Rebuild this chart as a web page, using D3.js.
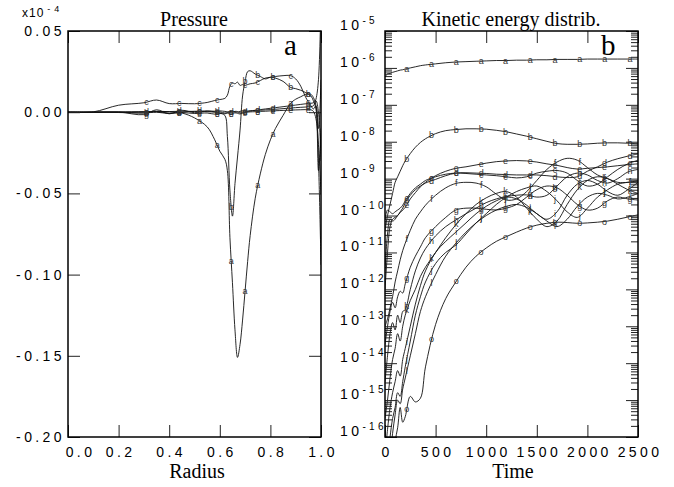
<!DOCTYPE html>
<html>
<head>
<meta charset="utf-8">
<script src="https://cdn.jsdelivr.net/npm/d3@7"></script>
<style>
  body { margin: 0; background: #fff; }
  svg { display: block; }
  .tick-label { font-family: "Liberation Sans", Arial, sans-serif; font-size: 14px; letter-spacing: 3.4px; fill: #000; }
  .serif { font-family: "Liberation Serif", "Times New Roman", serif; fill: #000; }
  .mark { font-family: "Liberation Sans", Arial, sans-serif; font-size: 9px; fill: #333; }
</style>
</head>
<body>
<svg id="chart" width="674" height="487"></svg>
<script>
"use strict";

// ---------- panel a : pressure (x10^-4) against radius ----------
const radius = [0, 0.1, 0.2, 0.3, 0.35, 0.4, 0.45, 0.5, 0.55, 0.58, 0.6, 0.62, 0.63, 0.64,
  0.65, 0.66, 0.67, 0.68, 0.69, 0.7, 0.71, 0.72, 0.74, 0.76, 0.78, 0.8, 0.82,
  0.85, 0.88, 0.9, 0.92, 0.94, 0.96, 0.97, 0.98, 0.99, 1.0];

const presA = [0, 0, 0, 0.0003, 0.0005, 0.0003, -0.0005, -0.0035, -0.009,
  -0.017, -0.024, -0.029, -0.036, -0.077, -0.105, -0.134, -0.151, -0.143, -0.128,
  -0.11, -0.092, -0.076, -0.053, -0.038, -0.026, -0.017, -0.010,
  -0.002, 0.0055, 0.008, 0.0095, 0.011, 0.011, 0.009, 0.004, -0.03, -0.094];
const presB = [0, 0, 0, -0.0005, 0.0, -0.0008, 0.0, 0.0005, 0.0003,
  0.0, -0.0005, -0.002, -0.015, -0.048, -0.064, -0.044, -0.0276, -0.011, 0.01,
  0.019, 0.025, 0.0255, 0.0235, 0.022, 0.0205, 0.0215, 0.021,
  0.019, 0.0152, 0.0145, 0.0135, 0.012, 0.01, 0.007, 0.002, -0.036, -0.01];
const presC = [0, 0.0002, 0.0043, 0.0058, 0.0075, 0.0053, 0.0054, 0.0052, 0.006,
  0.0072, 0.0078, 0.0085, 0.0105, 0.016, 0.018, 0.0175, 0.0185, 0.0165, 0.017,
  0.0165, 0.017, 0.0175, 0.018, 0.0195, 0.021, 0.0215, 0.022,
  0.0225, 0.0225, 0.0205, 0.016, 0.009, 0.004, 0.002, 0.004, -0.01, 0.02];
const presD = [0, 0, 0.0002, 0.0003, 0.0005, 0.0004, 0.0006, 0.0005, 0.0008,
  0.0006, 0.0008, 0.0005, 0.0003, 0.0005, 0.0002, 0.0005, 0.0004, -0.0005, 0.0,
  0.0003, 0.0006, 0.0008, 0.001, 0.0012, 0.0014, 0.0016, 0.0018,
  0.0022, 0.0026, 0.0028, 0.003, 0.0032, 0.0034, 0.004, 0.008, 0.02, 0.07];
const presE = [0, 0, -0.0002, -0.0004, 0.0002, -0.0006, -0.0002, -0.0008, -0.0005,
  -0.0012, -0.0008, -0.001, -0.0006, -0.0012, -0.0008, -0.0004, -0.0007, -0.0011, -0.0006,
  -0.0002, 0.0, 0.0002, 0.0003, 0.0005, 0.0006, 0.0008, 0.0009,
  0.0011, 0.0013, 0.0014, 0.0015, 0.0016, 0.0015, 0.0005, -0.004, -0.02, -0.05];
const presF = [0, 0, 0.0001, -0.0015, 0.0015, -0.001, 0.0012, -0.0003, 0.0006,
  0.0003, 0.0002, -0.0005, -0.0002, 0.0, 0.0003, 0.0001, 0.0, 0.0005, 0.0009,
  0.0008, 0.0006, 0.0008, 0.0012, 0.0016, 0.002, 0.0024, 0.0028,
  0.0034, 0.004, 0.0044, 0.0048, 0.0052, 0.0055, 0.0058, 0.007, 0.0, -0.03];

const presLetters = ["a", "b", "c", "d", "e", "g"];
const presLabelRadii = [0.31, 0.44, 0.52, 0.59, 0.645, 0.70, 0.75, 0.81, 0.88, 0.95];
const presTicks = [-0.2, -0.15, -0.1, -0.05, 0, 0.05];
const radiusTicks = [0, 0.2, 0.4, 0.6, 0.8, 1.0];

// ---------- panel b : kinetic energy (log10) against time ----------
const keTime = [0, 25, 50, 75, 100, 125, 150, 175, 200, 250, 300, 350, 400,
  500, 600, 700, 800, 900, 1000, 1100, 1200, 1300, 1400, 1500, 1600, 1700,
  1800, 1900, 2000, 2100, 2200, 2300, 2400, 2500];

const keA = [-6.25, -6.16, -6.15, -6.12, -6.10, -6.08, -6.06, -6.05, -6.03, -6.0, -5.97, -5.94, -5.92,
  -5.89, -5.86, -5.84, -5.83, -5.82, -5.81, -5.80, -5.80, -5.79, -5.79, -5.78, -5.78, -5.77,
  -5.77, -5.77, -5.76, -5.76, -5.76, -5.76, -5.76, -5.76];
const keB = [-10.4, -10.0, -9.7, -9.4, -9.1, -8.95, -8.8, -8.65, -8.52, -8.32, -8.15, -8.02, -7.92,
  -7.78, -7.70, -7.67, -7.65, -7.65, -7.66, -7.69, -7.73, -7.79, -7.85, -7.92, -7.99, -8.05,
  -8.07, -8.07, -8.06, -8.04, -8.03, -8.03, -8.04, -8.06];
const keC = [-10.1, -9.85, -9.9, -9.95, -9.9, -9.85, -9.8, -9.72, -9.6, -9.4, -9.25, -9.15, -9.05,
  -8.95, -8.88, -8.85, -8.86, -8.88, -8.9, -8.92, -8.95, -8.98, -8.95, -8.85, -8.8, -8.78,
  -8.85, -9.05, -9.2, -9.15, -8.95, -8.75, -8.6, -8.5];
const keD = [-12.0, -11.0, -10.3, -10.1, -10.05, -10.0, -9.9, -9.8, -9.65, -9.45, -9.3, -9.2, -9.12,
  -9.02, -8.92, -8.85, -8.84, -8.85, -8.86, -8.88, -8.89, -8.9, -8.9, -8.9, -8.92, -8.95,
  -8.97, -8.95, -8.8, -8.68, -8.55, -8.46, -8.39, -8.33];
const keE = [-11.5, -10.5, -10.1, -10.15, -10.1, -10.0, -9.92, -9.85, -9.78, -9.55, -9.38, -9.22, -9.1,
  -8.92, -8.8, -8.72, -8.68, -8.63, -8.58, -8.54, -8.52, -8.51, -8.52, -8.55, -8.6, -8.64,
  -8.7, -8.74, -8.72, -8.70, -8.68, -8.65, -8.62, -8.6];
const keF = [-13.0, -12.8, -12.5, -12.2, -11.8, -11.5, -11.2, -10.95, -10.75, -10.4, -10.1, -9.9, -9.72,
  -9.45, -9.25, -9.13, -9.1, -9.12, -9.22, -9.42, -9.58, -9.55, -9.35, -9.05, -8.75, -8.55,
  -8.45, -8.5, -8.7, -8.9, -9.0, -9.1, -9.1, -9.05];
const keG = [-13.5, -13.0, -12.6, -12.35, -12.5, -12.2, -12.05, -12.1, -11.85, -11.4, -11.1, -10.85, -10.6,
  -10.3, -10.05, -9.85, -9.8, -9.8, -9.83, -9.85, -9.8, -9.7, -9.5, -9.3, -9.2, -9.25,
  -9.45, -9.7, -9.85, -9.8, -9.6, -9.5, -9.55, -9.58];
const keH = [-14.5, -13.8, -13.2, -12.9, -13.1, -12.7, -12.9, -12.6, -12.55, -12.0, -11.5, -11.15, -10.9,
  -10.55, -10.3, -10.12, -9.95, -9.8, -9.65, -9.55, -9.48, -9.45, -9.44, -9.5, -9.45, -9.2,
  -8.95, -8.85, -8.9, -9.05, -9.12, -9.0, -8.82, -8.75];
const keI = [-16.5, -15.8, -15.2, -14.8, -14.5, -14.2, -14.35, -13.9, -13.6, -13.0, -12.4, -11.9, -11.5,
  -11.0, -10.7, -10.45, -10.2, -9.95, -9.75, -9.6, -9.5, -9.55, -9.72, -9.95, -10.1, -9.9,
  -9.45, -9.15, -9.05, -9.15, -9.35, -9.45, -9.3, -9.1];
const keJ = [-17.0, -16.6, -16.0, -15.5, -15.2, -14.8, -14.9, -14.5, -14.1, -13.4, -12.7, -12.2, -11.8,
  -11.3, -11.0, -10.8, -10.5, -10.2, -9.95, -9.7, -9.5, -9.35, -9.25, -9.2, -9.35, -9.6,
  -9.9, -10.05, -9.8, -9.5, -9.3, -9.15, -9.1, -9.08];
const keK = [-15.5, -15.0, -14.4, -13.9, -13.6, -13.2, -13.4, -13.0, -12.7, -12.3, -12.0, -11.65, -11.4,
  -11.0, -10.6, -10.25, -9.95, -9.7, -9.52, -9.4, -9.35, -9.5, -9.8, -10.1, -10.3, -10.15,
  -9.7, -9.3, -9.05, -8.95, -9.0, -9.15, -9.3, -9.4];
const keL = [-17.0, -17.0, -16.5, -15.9, -15.4, -15.0, -15.1, -14.7, -14.4, -13.8, -13.2, -12.6, -12.2,
  -11.6, -11.1, -10.75, -10.45, -10.2, -10.0, -9.85, -9.75, -9.7, -9.78, -9.95, -10.15, -10.3,
  -10.1, -9.75, -9.5, -9.4, -9.45, -9.55, -9.5, -9.4];
const keO = [-17.5, -17.2, -16.9, -16.5, -16.1, -15.75, -15.2, -15.6, -15.45, -14.9, -15.05, -14.95, -14.1,
  -12.95, -12.25, -11.8, -11.4, -11.1, -10.88, -10.7, -10.57, -10.45, -10.34, -10.26, -10.21, -10.18,
  -10.19, -10.21, -10.2, -10.18, -10.15, -10.1, -10.04, -9.98];

const keLetters = ["a", "b", "c", "d", "e", "f", "g", "h", "i", "j", "k", "l", "o"];
const keLabelTimes = [215, 460, 705, 950, 1190, 1435, 1680, 1925, 2170, 2420];
const timeTicks = [0, 500, 1000, 1500, 2000, 2500];

// ---------- layout ----------
const svg = d3.select("#chart");
const pBox = { x0: 68, x1: 321, y0: 31, y1: 437 };
const kBox = { x0: 385, x1: 638, y0: 31, y1: 437 };

const xP = d3.scaleLinear().domain([0, 1]).range([pBox.x0, pBox.x1]);
const yP = d3.scaleLinear().domain([-0.2, 0.05]).range([pBox.y1, pBox.y0]);
const xK = d3.scaleLinear().domain([0, 2500]).range([kBox.x0, kBox.x1]);
const yK = d3.scaleLog().domain([1e-16, 1e-5]).range([kBox.y1, kBox.y0]);

// clip paths
const defs = svg.append("defs");
[["clipP", pBox], ["clipK", kBox]].forEach(([id, b]) => {
  defs.append("clipPath").attr("id", id)
    .append("rect").attr("x", b.x0).attr("y", b.y0)
    .attr("width", b.x1 - b.x0).attr("height", b.y1 - b.y0);
});

// helper: drop domain, style ticks
function styleAxis(g) {
  g.select(".domain").remove();
  g.attr("font-size", null).attr("font-family", null);
  g.selectAll(".tick line").attr("stroke", "#222").attr("stroke-width", 1);
  g.selectAll(".tick text").attr("class", "tick-label").attr("fill", null);
}

// letter marks along a drawn path, at given x pixel positions
function markCurve(g, node, xs, letter, box) {
  const L = node.getTotalLength();
  xs.forEach((xt) => {
    let lo = 0, hi = L;
    for (let k = 0; k < 28; k++) {
      const mid = (lo + hi) / 2;
      if (node.getPointAtLength(mid).x < xt) lo = mid; else hi = mid;
    }
    const p = node.getPointAtLength(lo);
    if (p.y < box.y0 || p.y > box.y1) return;
    g.append("text").attr("class", "mark")
      .attr("x", p.x).attr("y", p.y)
      .attr("text-anchor", "middle").attr("dominant-baseline", "central")
      .text(letter);
  });
}

// ================= panel a =================
const presSeries = [presA, presB, presC, presD, presE, presF];
const lineP = d3.line()
  .x((d, i) => xP(radius[i]))
  .y((d) => yP(d))
  .curve(d3.curveCatmullRom.alpha(0.5));

const gP = svg.append("g").attr("clip-path", "url(#clipP)");
// tiny rotation keeps the small letters in grey anti-aliasing
const mP = svg.append("g").attr("transform", "rotate(0.01 337 243)");
presSeries.forEach((vals, s) => {
  const path = gP.append("path")
    .attr("d", lineP(vals))
    .attr("fill", "none").attr("stroke", "#111").attr("stroke-width", 0.9);
  markCurve(mP, path.node(), presLabelRadii.map(xP), presLetters[s], pBox);
});

const presFmt = (d) => d3.format(".2f")(d).replace("\u2212", "-");
svg.append("g").attr("transform", `translate(${pBox.x0},0)`)
  .call(d3.axisLeft(yP).tickValues(presTicks).tickSize(-12).tickPadding(3).tickFormat(presFmt))
  .call(styleAxis);
svg.append("g").attr("transform", `translate(${pBox.x1},0)`)
  .call(d3.axisRight(yP).tickValues(presTicks).tickSize(-12).tickFormat(""))
  .call(styleAxis);
svg.append("g").attr("transform", `translate(0,${pBox.y1})`)
  .call(d3.axisBottom(xP).tickValues(radiusTicks).tickSize(-12).tickPadding(10).tickFormat(d3.format(".1f")))
  .call(styleAxis)
  .selectAll(".tick text").attr("dx", (d) => (d === 0 ? 12 : 1.5));
svg.append("g").attr("transform", `translate(0,${pBox.y0})`)
  .call(d3.axisTop(xP).tickValues(radiusTicks).tickSize(-12).tickFormat(""))
  .call(styleAxis);

svg.append("rect").attr("x", pBox.x0).attr("y", pBox.y0)
  .attr("width", pBox.x1 - pBox.x0).attr("height", pBox.y1 - pBox.y0)
  .attr("fill", "none").attr("stroke", "#000").attr("stroke-width", 1.5);

// exponent factor
const expo = svg.append("text").attr("x", 22).attr("y", 17)
  .attr("font-family", "Liberation Sans, Arial, sans-serif").attr("font-size", 12)
  .attr("letter-spacing", 1);
expo.append("tspan").text("x10");
expo.append("tspan").attr("dx", 3).attr("dy", -5).attr("font-size", 9)
  .attr("letter-spacing", 4).text("-4");

svg.append("text").attr("class", "serif").attr("x", 194).attr("y", 26)
  .attr("text-anchor", "middle").attr("font-size", 20).text("Pressure");
svg.append("text").attr("class", "serif").attr("x", 197).attr("y", 478)
  .attr("text-anchor", "middle").attr("font-size", 20).text("Radius");
svg.append("text").attr("class", "serif").attr("x", 284).attr("y", 55)
  .attr("font-size", 29).text("a");

// ================= panel b =================
const keSeries = [keA, keB, keC, keD, keE, keF, keG, keH, keI, keJ, keK, keL, keO];
const lineK = d3.line()
  .x((d, i) => xK(keTime[i]))
  .y((d) => yK(Math.pow(10, d)))
  .curve(d3.curveCatmullRom.alpha(0.5));

const gK = svg.append("g").attr("clip-path", "url(#clipK)");
const mK = svg.append("g").attr("transform", "rotate(0.01 337 243)");
keSeries.forEach((vals, s) => {
  const path = gK.append("path")
    .attr("d", lineK(vals))
    .attr("fill", "none").attr("stroke", "#111").attr("stroke-width", 0.9);
  markCurve(mK, path.node(), keLabelTimes.map(xK), keLetters[s], kBox);
});

const allK = yK.ticks(100);
const majorK = allK.filter((v) => Math.abs(Math.log10(v) - Math.round(Math.log10(v))) < 1e-6);
const minorK = allK.filter((v) => !majorK.includes(v));

[[d3.axisLeft, kBox.x0], [d3.axisRight, kBox.x1]].forEach(([ax, x]) => {
  svg.append("g").attr("transform", `translate(${x},0)`)
    .call(ax(yK).tickValues(minorK).tickSize(-7).tickFormat(""))
    .call(styleAxis);
  svg.append("g").attr("transform", `translate(${x},0)`)
    .call(ax(yK).tickValues(majorK).tickSize(-12).tickFormat(""))
    .call(styleAxis);
});
svg.append("g").attr("transform", `translate(0,${kBox.y1})`)
  .call(d3.axisBottom(xK).tickValues(timeTicks).tickSize(-12).tickPadding(10).tickFormat(d3.format("d")))
  .call(styleAxis)
  .selectAll(".tick text").attr("dx", 1.5);
svg.append("g").attr("transform", `translate(0,${kBox.y0})`)
  .call(d3.axisTop(xK).tickValues(timeTicks).tickSize(-12).tickFormat(""))
  .call(styleAxis);

// log labels 10^n
majorK.forEach((v) => {
  const e = Math.round(Math.log10(v));
  const t = svg.append("text").attr("class", "tick-label")
    .attr("x", 340).attr("y", yK(v) - 1);
  t.append("tspan").text("10");
  t.append("tspan").attr("dy", -6).attr("font-size", 10).text(String(e));
});

svg.append("rect").attr("x", kBox.x0).attr("y", kBox.y0)
  .attr("width", kBox.x1 - kBox.x0).attr("height", kBox.y1 - kBox.y0)
  .attr("fill", "none").attr("stroke", "#000").attr("stroke-width", 1.5);

svg.append("text").attr("class", "serif").attr("x", 511).attr("y", 26)
  .attr("text-anchor", "middle").attr("font-size", 20).text("Kinetic energy distrib.");
svg.append("text").attr("class", "serif").attr("x", 513).attr("y", 478)
  .attr("text-anchor", "middle").attr("font-size", 20).text("Time");
svg.append("text").attr("class", "serif").attr("x", 601).attr("y", 55)
  .attr("font-size", 29).text("b");
</script>
</body>
</html>
